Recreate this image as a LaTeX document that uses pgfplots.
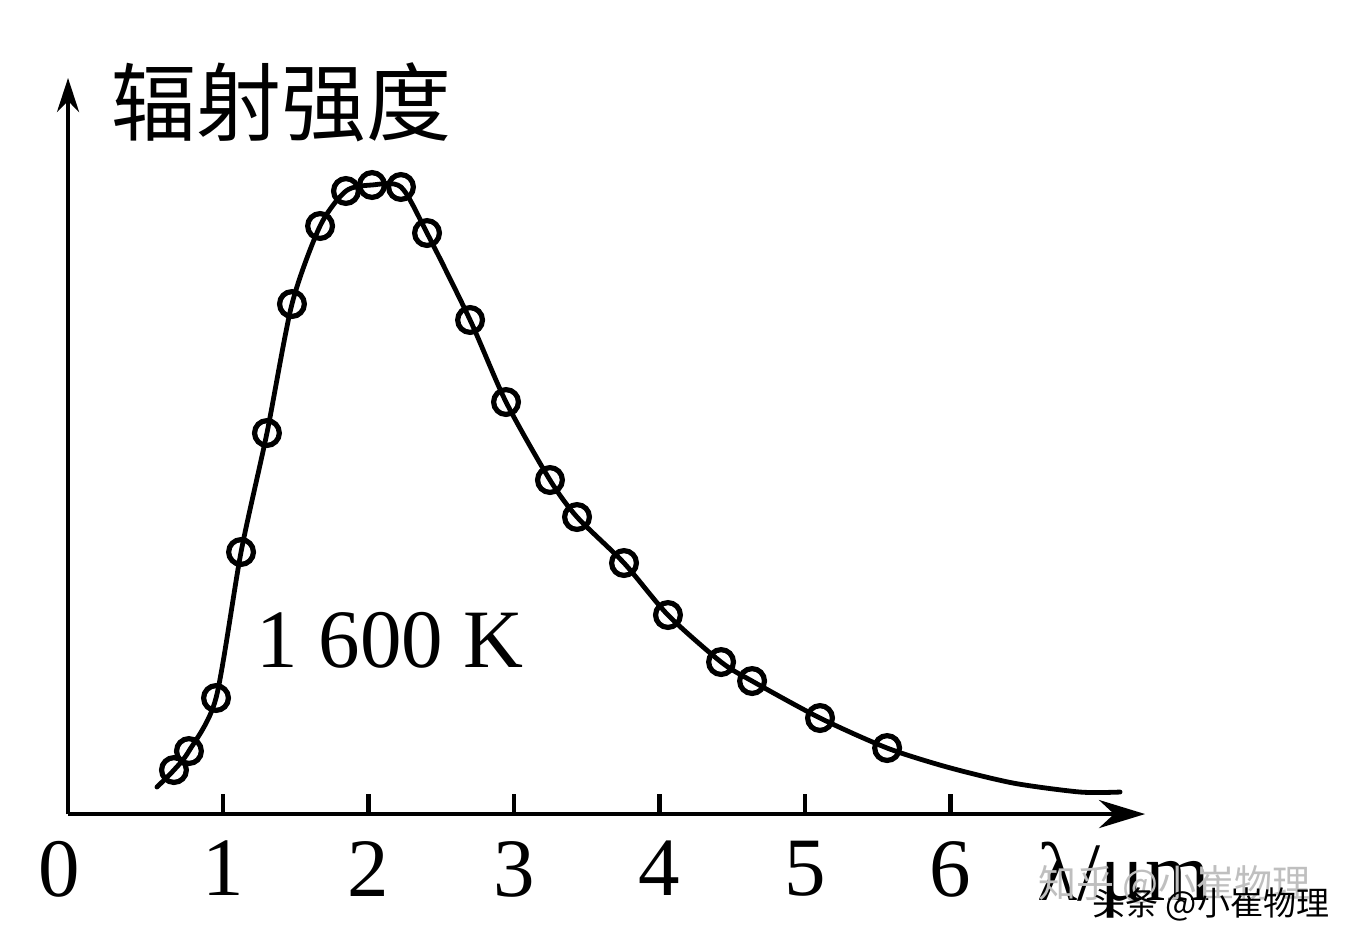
\documentclass[border=0pt]{standalone}
\usepackage{pgfplots}
\pgfplotsset{compat=1.18}
\usepackage{fontspec}
\setmainfont{Liberation Serif}
\newfontfamily\cjk{Noto Sans CJK SC}
\usetikzlibrary{arrows.meta}
\begin{document}
\begin{tikzpicture}
\begin{axis}[
  x=72.75bp, y=50bp,
  xmin=-0.065, xmax=7.337, ymin=0, ymax=7.36,
  axis lines=left,
  x axis line style={line width=2.3bp, -{Stealth[length=23bp,width=14bp]}},
  y axis line style={line width=2.3bp, -{Stealth[length=17bp,width=11bp]}},
  xtick={1,2,3,4,5,6}, xticklabels={1,2,3,4,5,6},
  ytick=\empty,
  tick align=inside, major tick length=10bp,
  tick style={line width=2.3bp, black},
  xticklabel style={font=\fontsize{41.5bp}{48bp}\selectfont, yshift=-10bp},
  clip=false,
]
\path (axis cs:-0.5326,-1.34) rectangle (axis cs:8.869,8.14);
% curve
\addplot[black, line width=2.4bp, smooth, tension=0.45, line join=round, line cap=round] coordinates {
(0.546,0.27) (0.663,0.44) (0.766,0.63) (0.952,1.16) (1.124,2.62) (1.302,3.81)
(1.474,5.10) (1.667,5.88) (1.845,6.23) (2.024,6.29) (2.223,6.27) (2.402,5.81)
(2.698,4.94) (2.945,4.12) (3.247,3.34) (3.433,2.97) (3.756,2.51) (4.058,1.99)
(4.423,1.52) (4.636,1.33) (5.103,0.96) (5.564,0.66) (5.976,0.47) (6.430,0.31)
(6.890,0.22) (7.165,0.22)
};
% measured points
\addplot[only marks, mark=o, mark size=6.2bp, mark options={line width=2.6bp, fill=white, draw=black}] coordinates {
(0.663,0.44) (0.766,0.63) (0.952,1.16) (1.124,2.62) (1.302,3.81)
(1.474,5.10) (1.667,5.88) (1.845,6.23) (2.024,6.29) (2.223,6.27) (2.402,5.81)
(2.698,4.94) (2.945,4.12) (3.247,3.34) (3.433,2.97) (3.756,2.51) (4.058,1.99)
(4.423,1.52) (4.636,1.33) (5.103,0.96) (5.564,0.66)
};
\node[font=\fontsize{41.5bp}{48bp}\selectfont, anchor=north, inner sep=0.333em, yshift=-10bp] at (axis cs:-0.127,0) {0};
\node[font=\fontsize{41.5bp}{48bp}\selectfont] at (axis cs:2.148,1.74) {1\hspace{0.25em}600\hspace{0.25em}K};
\node[font=\fontsize{42.5bp}{48bp}\cjk] at (axis cs:1.405,7.12) {辐射强度};
\node[font=\fontsize{41.5bp}{48bp}\selectfont, anchor=west, inner sep=0pt] at (axis cs:6.595,-0.66) {λ/μm};
\node[font=\fontsize{19bp}{22bp}\cjk, text=black!25, anchor=west, inner sep=0pt] at (axis cs:6.60,-0.71) {知乎 @小崔物理};
\node[font=\fontsize{16.5bp}{20bp}\cjk, text=black, anchor=west, inner sep=0pt] at (axis cs:6.973,-0.90) {头条 @小崔物理};
\end{axis}
\end{tikzpicture}
\end{document}
